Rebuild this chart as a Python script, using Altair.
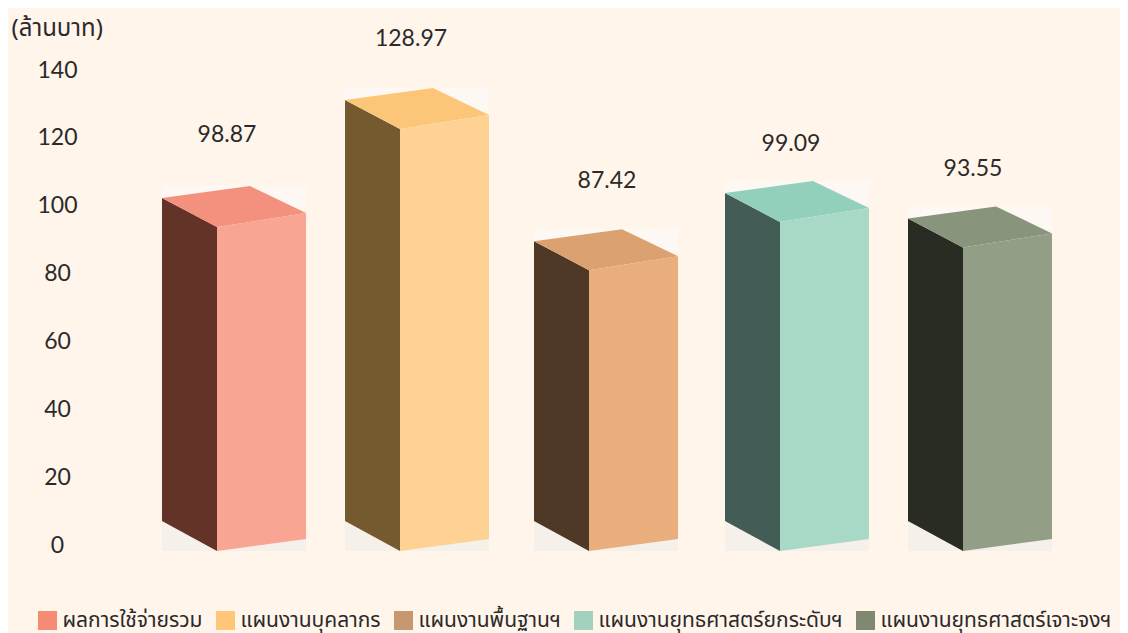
import altair as alt
import pandas as pd

# ---- values ----
categories = ["ผลการใช้จ่ายรวม", "แผนงานบุคลากร", "แผนงานพื้นฐานฯ", "แผนงานยุทธศาสตร์ยกระดับฯ", "แผนงานยุทธศาสตร์เจาะจงฯ"]
labels = [98.87, 128.97, 87.42, 99.09, 93.55]
drawn_heights = [93.7, 122.6, 81.0, 95.2, 87.7]   # front-top corner as read against the axis
y_ticks = [0, 20, 40, 60, 80, 100, 120, 140]

# ---- colours ----
legend_colors = ["#f68b74", "#fec676", "#c69872", "#a2d2bf", "#80896f"]
front_colors = ["#f8a594", "#fdd292", "#e9ae7c", "#a8d9c6", "#929f86"]
side_colors = ["#633327", "#75592f", "#503826", "#435c55", "#282c23"]
top_colors = ["#f3917e", "#fcc679", "#dba170", "#92d0bc", "#88947b"]
BG = "#fff5eb"
SHADOW = "#f5f0e9"
HALO = "#fdf8f3"
INK = "#2b2a29"

# ---- layout (scale units) ----
bar_left = [162, 345, 534, 725, 908]
SIDE_W = 55
FRONT_W = 89
BACK_DX = 88
label_x = [227, 411, 607, 791, 973]
label_y = [120.7, 149.2, 107.2, 118.2, 110.7]

U = 475 / 140  # pixels per axis unit
LEFT_RISE, RIGHT_RISE, BACK_RISE = 29 / U, 14 / U, 41 / U
FRONT_DROP, LEFT_LIFT, RIGHT_LIFT = -6 / U, 24 / U, 6 / U

THAI = "Noto Sans Thai, Noto Sans, DejaVu Sans"
NUM = "Lato, Noto Sans, DejaVu Sans"

side, front, top, under, halo = [], [], [], [], []
for cat, h, l, s_c, f_c, t_c in zip(categories, drawn_heights, bar_left, side_colors, front_colors, top_colors):
    fx = l + SIDE_W
    rx = fx + FRONT_W
    bx = l + BACK_DX
    tl, tr, tb = h + LEFT_RISE, h + RIGHT_RISE, h + BACK_RISE
    side += [
        dict(cat=cat, fill=s_c, x=l, y=tl, y2=LEFT_LIFT),
        dict(cat=cat, fill=s_c, x=fx, y=h, y2=FRONT_DROP),
    ]
    front += [
        dict(cat=cat, x=fx, y=h, y2=FRONT_DROP),
        dict(cat=cat, x=rx, y=tr, y2=RIGHT_LIFT),
    ]
    upper_at_fx = tl + (tb - tl) * SIDE_W / BACK_DX
    lower_at_bx = h + (tr - h) * (bx - fx) / FRONT_W
    top += [
        dict(cat=cat, fill=t_c, x=l, y=tl, y2=tl),
        dict(cat=cat, fill=t_c, x=fx, y=upper_at_fx, y2=h),
        dict(cat=cat, fill=t_c, x=bx, y=tb, y2=lower_at_bx),
        dict(cat=cat, fill=t_c, x=rx, y=tr, y2=tr),
    ]
    under.append(dict(x=l, x2=rx, y=LEFT_LIFT, y2=FRONT_DROP))
    halo.append(dict(x=l, x2=rx, y=tb, y2=tl - 3))

x_scale = alt.Scale(domain=[80, 1120], range=[0, 1040])
y_scale = alt.Scale(domain=[0, 140], range=[475, 0], nice=False)
X = alt.X("x:Q", scale=x_scale, axis=None)
Y = alt.Y(
    "y:Q",
    scale=y_scale,
    axis=alt.Axis(
        values=y_ticks, grid=False, domain=False, ticks=False, tickSize=0,
        labelFont=NUM, labelFontSize=23, labelColor=INK, labelAlign="center",
        labelBaseline="middle", labelPadding=23, labelOverlap=False,
        title="(ล้านบาท)", titleFont=THAI, titleFontSize=24, titleFontWeight="normal",
        titleColor=INK, titleAngle=0, titleAlign="left", titleBaseline="middle",
        titleX=-69, titleY=-42,
    ),
)

under_l = alt.Chart(pd.DataFrame(under)).mark_rect(color=SHADOW, clip=False).encode(
    x=X, x2="x2:Q", y=Y, y2="y2:Q")
halo_l = alt.Chart(pd.DataFrame(halo)).mark_rect(color=HALO, clip=False).encode(
    x=X, x2="x2:Q", y=Y, y2="y2:Q")

side_l = alt.Chart(pd.DataFrame(side)).mark_area(opacity=1, clip=False).encode(
    x=X, y=Y, y2="y2:Q",
    fill=alt.Fill("fill:N", scale=None), detail="cat:N")
top_l = alt.Chart(pd.DataFrame(top)).mark_area(opacity=1, clip=False).encode(
    x=X, y=Y, y2="y2:Q",
    fill=alt.Fill("fill:N", scale=None), detail="cat:N")
front_l = alt.Chart(pd.DataFrame(front)).mark_area(opacity=1, clip=False).encode(
    x=X, y=Y, y2="y2:Q",
    color=alt.Color(
        "cat:N",
        scale=alt.Scale(domain=categories, range=front_colors),
        legend=None,
    ),
)
legend_l = alt.Chart(pd.DataFrame(dict(cat=categories))).mark_square(opacity=0, clip=False).encode(
    fill=alt.Fill(
        "cat:N",
        sort=None,
        scale=alt.Scale(domain=categories, range=legend_colors),
        legend=alt.Legend(
            orient="none", legendX=-43, legendY=540, direction="horizontal",
            columns=5, gridAlign="none", title=None, padding=0,
            symbolType="square", symbolSize=361, symbolOpacity=1, symbolStrokeWidth=0,
            labelFont=THAI, labelFontSize=21, labelColor=INK, labelOffset=4.5,
            labelLimit=400, columnPadding=12,
        ),
    ),
)

text_l = alt.Chart(pd.DataFrame(dict(x=label_x, y=label_y, t=[f"{v:.2f}" for v in labels]))).mark_text(
    font=NUM, fontSize=23, color=INK, clip=False
).encode(x=X, y=Y, text="t:N")

chart = (
    alt.layer(halo_l, under_l, side_l, top_l, front_l, legend_l, text_l)
    .properties(
        width=1040, height=475, background=BG,
        padding={"left": 72, "top": 62, "right": 0, "bottom": 88},
        autosize=alt.AutoSizeParams(type="none"),
    )
    .configure_view(stroke=None)
)

chart.save("out.html", embed_options={"renderer": "svg", "actions": False})
